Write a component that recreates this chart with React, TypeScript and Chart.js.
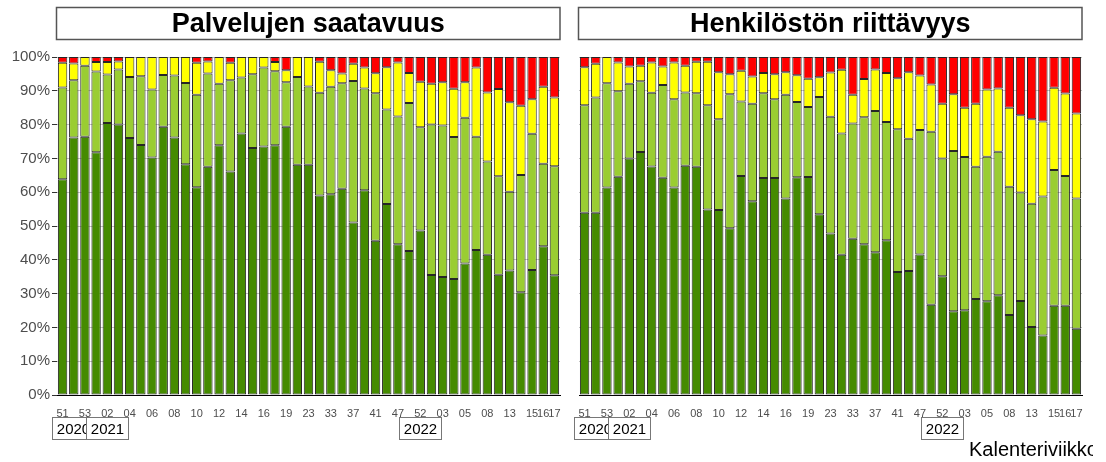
import { useEffect, useRef } from 'react';
import { Chart, registerables } from 'chart.js';

Chart.register(...registerables);

const FONT = "'Liberation Sans', Arial, sans-serif";

// categories (year-week)
const weeks = [
  '2020-51', '2020-52', '2020-53', '2021-01', '2021-02', '2021-03', '2021-04', '2021-05', '2021-06',
  '2021-07', '2021-08', '2021-09', '2021-10', '2021-11', '2021-12', '2021-13', '2021-14', '2021-15',
  '2021-16', '2021-17', '2021-19', '2021-21', '2021-23', '2021-28', '2021-33', '2021-35', '2021-37',
  '2021-39', '2021-41', '2021-44', '2021-47', '2021-50', '2021-52', '2022-01', '2022-03', '2022-04',
  '2022-05', '2022-06', '2022-08', '2022-10', '2022-13', '2022-14', '2022-15', '2022-16', '2022-17',
];

// tick labels shown under the bars
const tickLabels = [
  '51', '', '53', '', '02', '', '04', '', '06', '', '08', '', '10', '', '12', '', '14', '', '16', '',
  '19', '', '23', '', '33', '', '37', '', '41', '', '47', '', '52', '', '03', '', '05', '', '08', '',
  '13', '', '15', '16', '17',
];

const yearLabels = ['2020', '2021', '2022'];
const yearLabelIdx = [0.95, 4, 32];

const yTicks = [0, 10, 20, 30, 40, 50, 60, 70, 80, 90, 100];

// Palvelujen saatavuus
const palvDarkGreen = [
  63.8, 76.2, 76.4, 71.8, 80.5, 80.0, 76.0, 74.0, 70.3, 79.4, 76.2, 68.3, 61.5, 67.5, 73.9, 66.1, 77.4,
  73.1, 73.5, 73.9, 79.4, 68.1, 68.1, 59.0, 59.4, 61.0, 51.0, 60.6, 45.6, 56.5, 44.6, 42.6, 48.7, 35.5,
  34.9, 34.3, 38.9, 42.9, 41.5, 35.6, 36.8, 30.4, 37.0, 44.0, 35.4,
];
const palvLightGreen = [
  27.2, 16.9, 21.0, 23.9, 14.3, 16.3, 18.1, 20.3, 20.1, 15.3, 18.3, 24.0, 27.3, 27.6, 18.2, 27.0, 16.5,
  21.8, 23.4, 21.9, 13.1, 26.0, 23.2, 30.4, 31.8, 31.2, 41.9, 30.1, 43.7, 28.0, 37.8, 43.8, 30.5, 44.5,
  44.8, 42.0, 43.1, 33.5, 27.6, 29.1, 23.3, 34.7, 40.3, 24.4, 32.3,
];
const palvYellow = [
  7.3, 5.0, 2.6, 2.8, 3.7, 2.4, 5.9, 5.7, 9.6, 5.3, 5.5, 7.7, 9.5, 3.6, 7.9, 5.2, 6.1, 5.1, 3.1, 2.7,
  3.6, 5.9, 8.7, 9.2, 4.9, 2.9, 5.1, 6.2, 5.9, 12.5, 16.0, 8.9, 13.5, 12.1, 12.8, 14.3, 10.5, 20.5,
  20.4, 25.8, 26.5, 20.5, 10.2, 22.8, 20.3,
];
const palvRed = [
  1.7, 1.9, 0, 1.5, 1.5, 1.3, 0, 0, 0, 0, 0, 0, 1.7, 1.3, 0, 1.7, 0, 0, 0, 1.5, 3.9, 0, 0, 1.4, 3.9,
  4.9, 2.0, 3.1, 4.8, 3.0, 1.6, 4.7, 7.3, 7.9, 7.5, 9.4, 7.5, 3.1, 10.5, 9.5, 13.4, 14.4, 12.5, 8.8,
  12.0,
];

// Henkilöstön riittävyys
const henkDarkGreen = [
  53.9, 53.9, 61.4, 64.6, 70.0, 71.9, 67.6, 64.3, 61.4, 67.8, 67.5, 54.9, 54.7, 49.3, 64.8, 57.3, 64.2,
  64.2, 58.1, 64.4, 64.5, 53.5, 47.8, 41.5, 46.2, 44.6, 42.2, 45.8, 36.4, 36.7, 41.6, 26.7, 35.1, 24.8,
  25.1, 28.4, 27.7, 29.5, 23.7, 27.8, 20.1, 17.6, 26.4, 26.4, 19.6,
];
const henkLightGreen = [
  31.8, 34.1, 30.8, 25.3, 22.1, 20.9, 21.8, 27.4, 26.1, 21.7, 21.8, 30.8, 26.9, 39.7, 22.0, 28.9, 25.1,
  23.3, 30.7, 22.3, 20.7, 34.7, 34.5, 35.9, 34.1, 37.6, 41.8, 35.0, 42.2, 39.1, 36.8, 51.2, 34.9, 47.4,
  45.3, 39.1, 42.8, 42.5, 37.9, 32.1, 36.5, 41.1, 40.2, 38.4, 38.5,
];
const henkYellow = [
  11.3, 10.0, 7.8, 8.5, 5.1, 4.6, 9.0, 5.5, 10.9, 7.9, 9.3, 12.9, 13.9, 5.9, 9.1, 8.0, 6.0, 7.4, 6.7,
  7.9, 8.4, 5.8, 13.1, 18.8, 8.5, 11.3, 12.3, 14.5, 15.1, 19.7, 16.1, 14.0, 16.2, 16.8, 14.6, 18.7,
  19.9, 18.7, 23.4, 22.9, 25.0, 22.2, 24.3, 24.4, 25.2,
];
const henkRed = [
  3.0, 2.0, 0, 1.6, 2.8, 2.6, 1.6, 2.8, 1.6, 2.6, 1.4, 1.4, 4.5, 5.1, 4.1, 5.8, 4.7, 5.1, 4.5, 5.4,
  6.4, 6.0, 4.6, 3.8, 11.2, 6.5, 3.7, 4.7, 6.3, 4.5, 5.5, 8.1, 13.8, 11.0, 15.0, 13.8, 9.6, 9.3, 15.0,
  17.2, 18.4, 19.1, 9.1, 10.8, 16.7,
];

const COLORS = ['#458B00', '#9ACD32', '#FFFF00', '#FF0000'];

type PanelOpts = {
  title: string;
  series: number[][];
  showY: boolean;
  yWidth: number;
  rightPad: number;
  axisTitle?: string;
};

const overlayPlugin = (p: PanelOpts) => ({
  id: 'overlay',
  afterDraw(chart: any) {
    const ctx = chart.ctx as CanvasRenderingContext2D;
    const area = chart.chartArea;
    const xs = chart.scales.x;
    ctx.save();
    // title box
    const bx = area.left - 0.5;
    const bw = area.right - area.left + 0.5;
    ctx.fillStyle = '#fff';
    ctx.fillRect(bx, 7.5, bw, 32);
    ctx.strokeStyle = '#555';
    ctx.lineWidth = 1.5;
    ctx.strokeRect(bx, 7.5, bw, 32);
    ctx.fillStyle = '#000';
    ctx.font = `bold 27px ${FONT}`;
    ctx.textAlign = 'center';
    ctx.textBaseline = 'middle';
    ctx.fillText(p.title, bx + bw / 2, 24.5);

    // year boxes
    ctx.font = `15px ${FONT}`;
    yearLabels.forEach((yl, i) => {
      const cx = xs.getPixelForValue(yearLabelIdx[i]);
      const w = 42;
      const h = 22;
      const x0 = Math.round(cx - w / 2) + 0.5;
      const y0 = 417.5;
      ctx.fillStyle = '#fff';
      ctx.fillRect(x0, y0, w, h);
      ctx.strokeStyle = '#777';
      ctx.lineWidth = 1;
      ctx.strokeRect(x0, y0, w, h);
      ctx.fillStyle = '#000';
      ctx.textAlign = 'center';
      ctx.textBaseline = 'middle';
      ctx.fillText(yl, x0 + w / 2, y0 + h / 2 + 1);
    });

    if (p.axisTitle) {
      ctx.beginPath();
      ctx.rect(0, 440, 523, 22);
      ctx.clip();
      ctx.font = `20px ${FONT}`;
      ctx.fillStyle = '#000';
      ctx.textAlign = 'left';
      ctx.textBaseline = 'alphabetic';
      ctx.fillText(p.axisTitle, 399, 456);
    }
    ctx.restore();
  },
});

const makeConfig = (p: PanelOpts): any => ({
  type: 'bar',
  data: {
    labels: weeks,
    datasets: p.series.map((d, i) => ({
      data: d,
      backgroundColor: COLORS[i],
      borderColor: '#262626',
      borderWidth: 1,
      borderSkipped: false,
      barPercentage: 0.84,
      categoryPercentage: 1,
    })),
  },
  options: {
    animation: false,
    responsive: false,
    maintainAspectRatio: false,
    layout: { padding: { left: 0, right: p.rightPad, top: 57, bottom: 0 } },
    plugins: { legend: { display: false }, tooltip: { enabled: false }, title: { display: false } },
    scales: {
      x: {
        stacked: true,
        grid: { display: false },
        border: { display: true, color: '#000', width: 1 },
        ticks: {
          autoSkip: false,
          maxRotation: 0,
          minRotation: 0,
          padding: 4,
          color: '#4d4d4d',
          font: { family: FONT, size: 11 },
          callback: (_v: any, i: number) => tickLabels[i],
        },
        afterFit: (s: any) => {
          s.height = 67;
        },
      },
      y: {
        stacked: true,
        min: yTicks[0],
        max: yTicks[yTicks.length - 1],
        afterBuildTicks: (s: any) => {
          s.ticks = yTicks.map((v) => ({ value: v }));
        },
        ticks: {
          display: p.showY,
          color: '#4d4d4d',
          font: { family: FONT, size: 15 },
          padding: 2,
          callback: (v: any) => v + '%',
        },
        grid: {
          color: '#c4c4c4',
          drawTicks: p.showY,
          tickLength: 5,
          tickColor: '#333',
        },
        border: { display: false },
        afterFit: (s: any) => {
          s.width = p.yWidth;
        },
      },
    },
  },
  plugins: [overlayPlugin(p)],
});

export default function App() {
  const ref1 = useRef<HTMLCanvasElement>(null);
  const ref2 = useRef<HTMLCanvasElement>(null);

  useEffect(() => {
    const c1 = new Chart(
      ref1.current!,
      makeConfig({
        title: 'Palvelujen saatavuus',
        series: [palvDarkGreen, palvLightGreen, palvYellow, palvRed],
        showY: true,
        yWidth: 57,
        rightPad: 10,
      })
    );
    const c2 = new Chart(
      ref2.current!,
      makeConfig({
        title: 'Henkilöstön riittävyys',
        series: [henkDarkGreen, henkLightGreen, henkYellow, henkRed],
        showY: false,
        yWidth: 9,
        rightPad: 24,
        axisTitle: 'Kalenteriviikko',
      })
    );
    return () => {
      c1.destroy();
      c2.destroy();
    };
  }, []);

  return (
    <div style={{ position: 'fixed', left: 0, top: 0, width: 1106, height: 462, background: '#fff' }}>
      <canvas ref={ref1} width={570} height={462} style={{ position: 'absolute', left: 0, top: 0, width: 570, height: 462 }} />
      <canvas ref={ref2} width={536} height={462} style={{ position: 'absolute', left: 570, top: 0, width: 536, height: 462 }} />
    </div>
  );
}
